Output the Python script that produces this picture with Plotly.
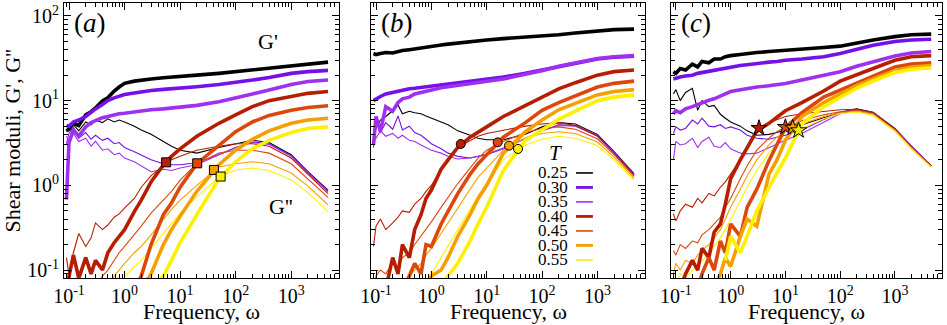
import plotly.graph_objects as go

FONT = "Liberation Serif"

temps = ["0.25", "0.30", "0.35", "0.40", "0.45", "0.50", "0.55"]
colors = ["#000000", "#7511e8", "#a030f0", "#b51e00", "#dc480c", "#f4a000", "#fff000"]

# frequency grid shared by all curves
omega = [0.09, 0.1, 0.12, 0.15, 0.2, 0.25, 0.3, 0.4, 0.5, 0.65, 0.8, 1, 1.5, 2, 3, 5, 7, 10,
         20, 50, 100, 200, 400, 1000, 2000, 4600]
N = None

# panel (a): storage modulus G' (thick) and loss modulus G'' (thin), one row per T
a_Gp = [
    [4.4, 4.6, 5.4, 5.1, 6.8, 7.4, 8.2, 9.9, 10.8, 13, 14.5, 16, 17, 17.5, 18, 18.6, 19, 19.6, 20, 21, 22, 23.5, 24.5, 26, 27.5, 28.5],
    [5.1, 5.0, 5.6, 5.9, 6.5, 7.3, 8.0, 9.0, 10, 10.8, 11.3, 11.8, 12.3, 12.7, 13.2, 13.6, 13.8, 14, 14.6, 15.5, 16.3, 17.5, 18.8, 21, 22, 22.8],
    [0.68, 3.2, 4.5, 3.8, 4.9, 5.5, 5.8, 6.3, 6.5, 6.8, 7.0, 7.1, 7.4, 7.6, 7.8, 8.0, 8.2, 8.4, 8.8, 9.7, 10.7, 12, 13.4, 15.5, 16.8, 17.5],
    [0.06, 0.085, 0.15, 0.08, 0.14, 0.09, 0.13, 0.1, 0.16, 0.21, 0.25, 0.3, 0.49, 0.67, 1.1, 1.74, 2.2, 2.7, 3.8, 5.4, 6.8, 8.5, 10, 11.1, 12.2, 12.8],
    [N, N, N, N, N, N, N, N, N, N, N, N, 0.06, 0.085, 0.2, 0.45, 0.62, 0.95, 1.8, 3.0, 4.3, 5.6, 6.7, 7.7, 8.3, 8.7],
    [N, N, N, N, N, N, N, N, N, N, N, N, N, 0.06, 0.09, 0.2, 0.3, 0.43, 0.85, 1.75, 2.6, 3.5, 4.4, 5.4, 5.9, 6.2],
    [N, N, N, N, N, N, N, N, N, N, N, N, N, N, 0.06, 0.085, 0.13, 0.21, 0.45, 1.2, 1.9, 2.7, 3.4, 4.2, 4.7, 4.9],
]
a_Gpp = [
    [4.3, 4.6, 5.2, 4.4, 5.6, 5.2, 5.9, 5.5, 6.1, 5.6, 5.9, 5.6, 5.0, 4.5, 4.0, 3.3, 2.9, 2.6, 2.4, 2.8, 3.1, 3.4, 3.2, 2.3, 1.45, 0.88],
    [3.1, 4.1, 4.9, 3.6, 4.2, 3.5, 3.9, 3.4, 3.6, 3.1, 3.2, 2.8, 2.5, 2.3, 2.0, 1.8, 1.75, 1.75, 1.85, 2.3, 2.8, 3.25, 3.1, 2.25, 1.42, 0.86],
    [3.8, 3.2, 4.1, 3.3, 3.6, 2.9, 3.3, 2.6, 2.7, 2.3, 2.4, 2.1, 1.9, 1.7, 1.45, 1.55, 1.5, 1.6, 1.75, 2.3, 2.8, 3.2, 3.05, 2.2, 1.4, 0.84],
    [0.14, 0.087, 0.16, 0.27, 0.19, 0.24, 0.36, 0.3, 0.34, 0.42, 0.46, 0.54, 0.7, 0.95, 1.3, 1.7, 2.0, 2.2, 2.6, 2.9, 3.1, 3.1, 2.9, 2.1, 1.35, 0.8],
    [N, N, N, N, N, N, 0.06, 0.085, 0.1, 0.13, 0.16, 0.19, 0.26, 0.33, 0.47, 0.67, 0.85, 1.15, 1.8, 2.4, 2.6, 2.6, 2.4, 1.8, 1.2, 0.72],
    [N, N, N, N, N, N, N, N, 0.06, 0.085, 0.1, 0.12, 0.16, 0.19, 0.26, 0.4, 0.52, 0.67, 1.0, 1.65, 1.8, 1.9, 1.8, 1.4, 0.98, 0.59],
    [N, N, N, N, N, N, N, N, N, N, 0.06, 0.083, 0.11, 0.13, 0.18, 0.27, 0.35, 0.47, 0.73, 1.25, 1.52, 1.6, 1.5, 1.16, 0.82, 0.49],
]

# panel (b)
b_Gp = [
    [36, 35, 36, 37, 36.5, 38, 39, 40, 41, 42, 43, 44, 45.5, 46.5, 48, 50, 51, 52, 54, 56, 57.5, 60, 63, 67, 69, 70],
    [10, 10.5, 11.2, 12, 12.5, 13, 13.4, 13.8, 14, 14.3, 14.6, 15, 15.5, 16, 16.5, 17, 17.5, 18, 19, 21, 23, 25.5, 28, 31, 32.5, 33.5],
    [3.0, 6.5, 4.3, 8.5, 7.5, 9.5, 10.5, 11, 12, 12.5, 13, 13.6, 14.2, 14.6, 15.2, 15.8, 16.3, 16.8, 18, 20.5, 22.5, 25.5, 28, 31.5, 33, 34],
    [N, N, N, 0.06, 0.14, 0.09, 0.2, 0.14, 0.3, 0.45, 0.7, 0.88, 1.55, 2.0, 2.8, 3.7, 4.3, 4.9, 6.5, 8.8, 11.2, 13.8, 16.3, 20, 22, 23],
    [N, N, N, N, N, N, 0.06, 0.085, 0.12, 0.09, 0.2, 0.19, 0.35, 0.5, 0.8, 1.35, 1.8, 2.3, 3.7, 5.5, 7.7, 9.5, 11.5, 14.5, 16, 17],
    [N, N, N, N, N, N, N, N, N, N, 0.06, 0.085, 0.1, 0.14, 0.25, 0.45, 0.7, 1.0, 2.4, 4.3, 5.9, 7.8, 9.3, 11.7, 12.8, 13.5],
    [N, N, N, N, N, N, N, N, N, N, N, N, 0.06, 0.085, 0.12, 0.22, 0.35, 0.55, 1.5, 3.4, 4.5, 6.0, 7.5, 10, 11, 11.7],
]
b_Gpp = [
    [3.4, 4.8, 5.9, 6.5, 7.6, 8.9, 7.0, 7.5, 7.2, 7.0, 6.6, 6.2, 5.6, 5.2, 4.4, 3.9, 3.6, 3.45, 3.45, 4.0, 4.9, 5.5, 5.3, 4.0, 2.5, 1.38],
    [2.8, 6.5, 4.2, 5.5, 4.6, 6.6, 4.5, 5.0, 4.2, 3.9, 3.5, 3.1, 2.7, 2.4, 2.2, 2.1, 2.2, 2.3, 2.7, 3.6, 4.4, 5.2, 5.1, 3.9, 2.45, 1.35],
    [3.2, 3.6, 4.4, 3.8, 4.1, 3.6, 3.9, 3.4, 3.3, 3.0, 2.8, 2.6, 2.4, 2.2, 2.05, 2.1, 2.2, 2.35, 2.75, 3.6, 4.4, 5.1, 5.0, 3.85, 2.4, 1.32],
    [0.19, 0.33, 0.4, 0.3, 0.36, 0.42, 0.5, 0.48, 0.6, 0.7, 0.85, 1.0, 1.5, 1.9, 2.8, 3.4, 3.8, 4.1, 4.5, 5.0, 5.3, 5.5, 5.1, 3.8, 2.4, 1.3],
    [0.06, 0.085, 0.1, 0.09, 0.12, 0.11, 0.14, 0.16, 0.2, 0.25, 0.3, 0.37, 0.55, 0.72, 1.05, 1.6, 2.1, 2.6, 3.3, 4.2, 4.7, 4.9, 4.6, 3.55, 2.3, 1.28],
    [N, N, N, N, N, N, 0.06, 0.085, 0.1, 0.12, 0.15, 0.18, 0.27, 0.36, 0.55, 0.9, 1.25, 1.6, 2.6, 3.6, 4.1, 4.3, 4.1, 3.25, 2.15, 1.22],
    [N, N, N, N, N, N, N, N, N, N, 0.06, 0.09, 0.14, 0.19, 0.3, 0.52, 0.75, 1.05, 2.0, 3.0, 3.5, 3.8, 3.6, 2.95, 2.0, 1.15],
]

# panel (c)
c_Gp = [
    [22, 21, 24, 23, 27, 25, 29, 28, 31, 31, 33, 34, 35, 36, 37, 38, 38.5, 39.5, 41, 42.5, 44, 48, 52, 57, 60, 61],
    [18, 18.5, 19, 19.5, 20, 21, 21.5, 22, 23, 23.5, 24, 25, 26, 26.5, 27.5, 28.5, 29, 30, 31, 33, 36, 40, 45, 50, 52, 53],
    [7.0, 7.6, 7.2, 8.0, 8.5, 9.0, 9.6, 10.1, 10.5, 11.2, 12, 12.8, 13.5, 14, 14.5, 15, 15.4, 15.9, 17.5, 20, 22, 25.5, 29, 33.6, 36.5, 38],
    [N, N, 0.06, 0.09, 0.13, 0.1, 0.18, 0.14, 0.28, 0.35, 0.6, 1.2, 2.0, 2.8, 4.4, 5.4, 6.3, 7.6, 9.5, 13, 17, 20, 24, 30, 33, 34],
    [N, N, N, N, N, 0.06, 0.09, 0.14, 0.1, 0.22, 0.16, 0.35, 0.25, 0.55, 0.9, 1.95, 3.0, 4.8, 7.2, 11, 13.3, 16, 19.5, 25, 27, 28],
    [N, N, N, N, N, N, N, N, 0.06, 0.09, 0.14, 0.11, 0.25, 0.4, 0.33, 1.35, 2.0, 3.4, 6.5, 9.5, 12, 15, 18, 22.5, 25, 26],
    [N, N, N, N, N, N, N, N, N, N, 0.13, 0.25, 0.16, 0.25, 0.5, 0.95, 1.4, 2.1, 5.3, 8.5, 11, 14, 17, 21.5, 23.5, 24.5],
]
c_Gpp = [
    [12, 13.5, 10, 12.5, 14, 7.7, 10, 8.5, 8.8, 6.9, 6.2, 5.6, 5.0, 4.4, 3.9, 4.0, 4.2, 4.5, 5.2, 6.3, 7.3, 8.0, 7.3, 4.7, 2.9, 1.7],
    [4.1, 4.9, 4.5, 4.7, 5.9, 5.3, 6.2, 5.0, 4.9, 5.2, 4.7, 4.9, 4.5, 3.9, 3.6, 3.5, 3.7, 3.9, 4.5, 6.0, 7.2, 7.9, 7.2, 4.65, 2.9, 1.7],
    [2.0, 3.3, 3.0, 3.1, 3.6, 2.8, 3.3, 3.7, 2.9, 2.8, 3.2, 2.7, 2.4, 2.35, 2.4, 2.8, 3.1, 3.4, 4.1, 5.6, 7.0, 7.8, 7.2, 4.6, 2.9, 1.7],
    [0.46, 0.38, 0.5, 0.6, 0.55, 0.7, 0.62, 0.8, 0.75, 0.95, 1.1, 1.37, 2.0, 2.8, 4.4, 5.5, 6.0, 6.5, 7.0, 7.5, 7.8, 7.9, 7.2, 4.6, 2.85, 1.68],
    [0.17, 0.15, 0.2, 0.18, 0.22, 0.21, 0.26, 0.3, 0.35, 0.42, 0.55, 0.7, 1.2, 1.7, 2.6, 3.6, 4.3, 4.9, 5.8, 6.8, 7.4, 7.7, 7.0, 4.5, 2.8, 1.68],
    [0.09, 0.12, 0.1, 0.13, 0.12, 0.15, 0.17, 0.2, 0.24, 0.3, 0.4, 0.55, 0.9, 1.3, 2.0, 3.0, 3.7, 4.3, 5.3, 6.5, 7.2, 7.5, 6.9, 4.45, 2.75, 1.65],
    [0.085, 0.07, 0.09, 0.08, 0.1, 0.11, 0.13, 0.15, 0.19, 0.24, 0.3, 0.4, 0.65, 0.95, 1.5, 2.4, 3.1, 3.7, 4.7, 6.1, 7.0, 7.3, 6.7, 4.35, 2.7, 1.63],
]

# crossover points G' = G'' for T = 0.40 ... 0.55
a_cross_w = [5.6, 20.3, 40.6, 53.6]
a_cross_G = [1.87, 1.82, 1.52, 1.27]
b_cross_w = [3.4, 15.8, 25.3, 36.8]
b_cross_G = [3.08, 3.22, 2.94, 2.69]
c_cross_w = [3.3, 10.0, 13.6, 17.4]
c_cross_G = [4.74, 4.87, 4.79, 4.45]

panels = [
    (a_Gp, a_Gpp, a_cross_w, a_cross_G, "square", 9),
    (b_Gp, b_Gpp, b_cross_w, b_cross_G, "circle", 9),
    (c_Gp, c_Gpp, c_cross_w, c_cross_G, "star", 12),
]
domains = [[0.0, 0.3132], [0.3497, 0.6617], [0.6913, 1.0]]

fig = go.Figure()
for k, (gp, gpp, cw, cg, sym, msize) in enumerate(panels):
    xa = "x" if k == 0 else f"x{k + 1}"
    ya = "y" if k == 0 else f"y{k + 1}"
    for i in range(len(temps)):
        fig.add_trace(go.Scatter(x=omega, y=gpp[i], mode="lines", xaxis=xa, yaxis=ya,
                                 line=dict(color=colors[i], width=1.1), showlegend=False,
                                 hoverinfo="skip"))
    for i in range(len(temps)):
        fig.add_trace(go.Scatter(x=omega, y=gp[i], mode="lines", xaxis=xa, yaxis=ya,
                                 line=dict(color=colors[i], width=3.6), showlegend=False,
                                 hoverinfo="skip"))
    fig.add_trace(go.Scatter(x=cw, y=cg, mode="markers", xaxis=xa, yaxis=ya, showlegend=False,
                             marker=dict(symbol=sym, size=msize, color=colors[3:],
                                         line=dict(color="black", width=1))))

xminor = [m * 10 ** e for e in range(-2, 4) for m in range(2, 10)]
yminor = [m * 10 ** e for e in range(-2, 3) for m in range(2, 10)]
axis_style = dict(type="log", showline=True, linecolor="black", linewidth=1.2, mirror="ticks",
                  ticks="inside", ticklen=7, tickwidth=1, tickcolor="black", showgrid=False,
                  zeroline=False, automargin=False,
                  tickfont=dict(family=FONT, size=20, color="black"))
minor_style = dict(ticks="inside", ticklen=3.5, tickwidth=1, tickcolor="black", showgrid=False)

layout = dict(width=947, height=325, margin=dict(l=64, r=5, t=3, b=47),
              plot_bgcolor="white", paper_bgcolor="white",
              font=dict(family=FONT, color="black"))
for k in range(3):
    xs = "xaxis" if k == 0 else f"xaxis{k + 1}"
    ys = "yaxis" if k == 0 else f"yaxis{k + 1}"
    layout[xs] = dict(axis_style, domain=domains[k], range=[-1.09, 3.86],
                      anchor="y" if k == 0 else f"y{k + 1}",
                      tickvals=[0.1, 1, 10, 100, 1000],
                      ticktext=["10<sup>-1</sup>", "10<sup>0</sup>", "10<sup>1</sup>",
                                "10<sup>2</sup>", "10<sup>3</sup>"],
                      minor=dict(minor_style, tickvals=xminor))
    layout[ys] = dict(axis_style, domain=[0, 1], range=[-1.094, 2.153],
                      anchor="x" if k == 0 else f"x{k + 1}",
                      tickvals=[0.1, 1, 10, 100],
                      ticktext=["10<sup>-1</sup>", "10<sup>0</sup>", "10<sup>1</sup>", "10<sup>2</sup>"],
                      minor=dict(minor_style, tickvals=yminor),
                      showticklabels=(k == 0))
fig.update_layout(**layout)

# axis titles
for k, tag in enumerate(["a", "b", "c"]):
    xr = "x domain" if k == 0 else f"x{k + 1} domain"
    yr = "y domain" if k == 0 else f"y{k + 1} domain"
    fig.add_annotation(x=0.5, y=-0.123, xref=xr, yref="paper", xanchor="center", yanchor="middle",
                       text="Frequency, ω", showarrow=False, font=dict(family=FONT, size=22))
    fig.add_annotation(x=0.03, y=0.99, xref=xr, yref=yr, xanchor="left", yanchor="top",
                       text=f"(<i>{tag}</i>)", showarrow=False, font=dict(family=FONT, size=27))
fig.add_annotation(x=-0.0592, y=0.50, xref="paper", yref="paper", xanchor="center", yanchor="middle",
                   textangle=-90, text="Shear moduli, G', G''", showarrow=False,
                   font=dict(family=FONT, size=22))
fig.add_annotation(x=0.70, y=0.86, xref="x domain", yref="y domain", xanchor="left", yanchor="middle",
                   text="G'", showarrow=False, font=dict(family=FONT, size=22))
fig.add_annotation(x=0.74, y=0.26, xref="x domain", yref="y domain", xanchor="left", yanchor="middle",
                   text="G''", showarrow=False, font=dict(family=FONT, size=22))

# temperature key inside panel (b)
fig.add_annotation(x=0.672, y=0.455, xref="x2 domain", yref="y2 domain", xanchor="center",
                   yanchor="middle", text="<i>T</i>", showarrow=False, font=dict(family=FONT, size=21))
for i, t in enumerate(temps):
    yk = 0.382 - i * 0.0527
    fig.add_annotation(x=0.726, y=yk, xref="x2 domain", yref="y2 domain", xanchor="right",
                       yanchor="middle", text=t, showarrow=False, font=dict(family=FONT, size=17))
    fig.add_shape(type="line", xref="x2 domain", yref="y2 domain", x0=0.748, x1=0.81,
                  y0=yk, y1=yk, line=dict(color=colors[i], width=2.8 if i % 2 else 1.6))

# the page's default body margin would shift the 947x325 figure out of the window
fig.write_html("out.html", config={"displayModeBar": False},
               post_script="document.body.style.margin='0';")
